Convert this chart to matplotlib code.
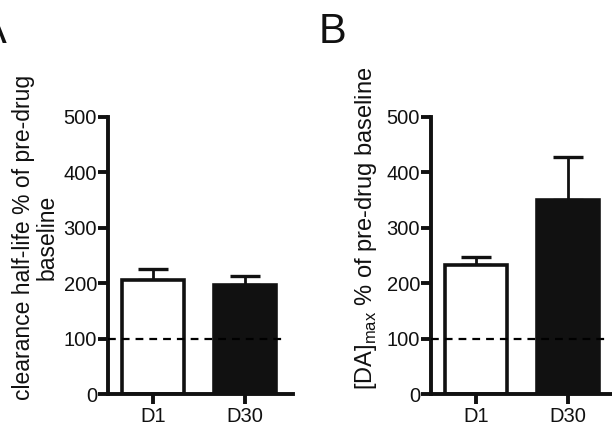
import matplotlib
matplotlib.use("Agg")
import matplotlib.pyplot as plt

plt.rcParams['font.family'] = ['Liberation Sans', 'DejaVu Sans']

days = ['D1', 'D30']
halflife = [206, 197]
halflife_err = [20, 16]
damax = [233, 350]
damax_err = [14, 77]
bar_colors = ['white', '#111111']
yticks = [0, 100, 200, 300, 400, 500]

W, H = 612, 429
fig = plt.figure(figsize=(W / 100, H / 100), dpi=100)


def panel(left_px, vals, errs):
    ax = fig.add_axes([left_px / W, 1 - 394 / H, 185 / W, (394 - 117) / H])
    x = range(len(days))
    ax.axhline(100, xmin=0, xmax=0.97, color='black', lw=1.6, ls=(0, (3.5, 2.7)), zorder=3)
    ax.bar(x, vals, width=0.68, color=bar_colors, edgecolor='#111111', linewidth=2.6, zorder=2)
    ax.errorbar(x, vals, yerr=[[0] * len(vals), errs], fmt='none', ecolor='#111111',
                elinewidth=2, capsize=11, capthick=2.4, zorder=1)
    ax.set_xlim(-0.49, 1.52)
    ax.set_ylim(0, 500)
    ax.set_yticks(yticks)
    ax.set_xticks(list(x))
    ax.set_xticklabels(days)
    for s in ['top', 'right']:
        ax.spines[s].set_visible(False)
    for s in ['left', 'bottom']:
        ax.spines[s].set_linewidth(2.8)
        ax.spines[s].set_color('#111111')
    ax.tick_params(axis='both', width=2.8, length=7, labelsize=14.5, colors='#111111', pad=2)
    ax.tick_params(axis='y', pad=1)
    ax.set_facecolor('none')
    return ax


axA = panel(108, halflife, halflife_err)
axB = panel(431, damax, damax_err)

fig.text(35 / W, 1 - 237 / H, 'clearance half-life % of pre-drug\nbaseline', rotation=90,
         ha='center', va='center', multialignment='center', fontsize=16.5, color='#111111',
         linespacing=1.05)
fig.text(366 / W, 1 - 228 / H, '[DA]$_{\\mathregular{max}}$ % of pre-drug baseline', rotation=90,
         ha='center', va='center', fontsize=17, color='#111111')

fig.text(-21 / W, 1 - 43 / H, 'A', fontsize=30, color='#111111', ha='left', va='baseline')
fig.text(319 / W, 1 - 43 / H, 'B', fontsize=30, color='#111111', ha='left', va='baseline')

fig.savefig('out.png', dpi=100)
